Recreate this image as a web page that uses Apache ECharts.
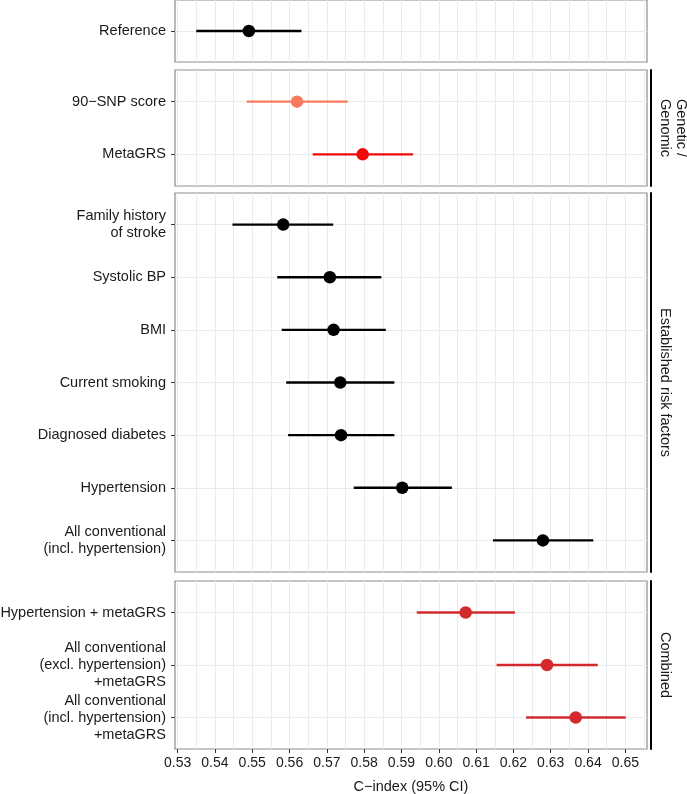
<!DOCTYPE html>
<html>
<head>
<meta charset="utf-8">
<script src="https://cdn.jsdelivr.net/npm/echarts@6/dist/echarts.min.js"></script>
<style>
html, body { margin: 0; padding: 0; background: #fff; }
#main { width: 687px; height: 794px; }
</style>
</head>
<body>
<div id="main"></div>
<script>
// C-index estimates and 95% CI
var refLabels = ['Reference'];
var refEst = [0.5491];
var refLo = [0.5350];
var refHi = [0.5632];

var genLabels = ['90\u2212SNP score', 'MetaGRS'];
var genEst = [0.5620, 0.5796];
var genLo = [0.5485, 0.5662];
var genHi = [0.5756, 0.5931];

var estLabels = ['Family history\nof stroke', 'Systolic BP', 'BMI', 'Current smoking',
    'Diagnosed diabetes', 'Hypertension', 'All conventional\n(incl. hypertension)'];
var estEst = [0.5583, 0.5708, 0.5718, 0.5736, 0.5738, 0.5902, 0.6279];
var estLo = [0.5447, 0.5567, 0.5579, 0.5591, 0.5596, 0.5772, 0.6145];
var estHi = [0.5717, 0.5846, 0.5858, 0.5881, 0.5881, 0.6035, 0.6414];

var combLabels = ['Hypertension + metaGRS', 'All conventional\n(excl. hypertension)\n+metaGRS',
    'All conventional\n(incl. hypertension)\n+metaGRS'];
var combEst = [0.6072, 0.6290, 0.6367];
var combLo = [0.5941, 0.6155, 0.6234];
var combHi = [0.6204, 0.6426, 0.6501];

var xTicks = [0.53, 0.54, 0.55, 0.56, 0.57, 0.58, 0.59, 0.60, 0.61, 0.62, 0.63, 0.64, 0.65];

var panels = [
    { labels: refLabels, est: refEst, lo: refLo, hi: refHi, colors: ['#000000'], strip: null },
    { labels: genLabels, est: genEst, lo: genLo, hi: genHi, colors: ['#F87A5F', '#F00A0A'], strip: 'Genetic /\nGenomic' },
    { labels: estLabels, est: estEst, lo: estLo, hi: estHi, colors: ['#000000'], strip: 'Established risk factors' },
    { labels: combLabels, est: combEst, lo: combLo, hi: combHi, colors: ['#D3282C'], strip: 'Combined' }
];

// panel boxes (px)
var boxes = [
    { top: 0, height: 62 },
    { top: 70, height: 116 },
    { top: 193, height: 379 },
    { top: 581, height: 168 }
];

var X_MIN = 0.5293, X_MAX = 0.6558;
var FONT = '"Liberation Sans", Arial, sans-serif';

// major + minor grid positions
var xGrid = [];
xTicks.forEach(function (t) { xGrid.push(t, +(t + 0.005).toFixed(3)); });

var grids = [], xAxes = [], yAxes = [], series = [];

panels.forEach(function (p, i) {
    var n = p.labels.length;
    var idx = p.labels.map(function (_, k) { return k; });
    var colorOf = function (k) { return p.colors[k % p.colors.length]; };

    grids.push({
        left: 175, right: 40, top: boxes[i].top, height: boxes[i].height,
        containLabel: false, outerBoundsMode: 'none',
        show: true, borderColor: '#8c8c8c', borderWidth: 1.2, backgroundColor: '#fff'
    });

    xAxes.push({
        type: 'value', gridIndex: i, min: X_MIN, max: X_MAX,
        axisLine: { show: false, onZero: false },
        axisTick: { show: false, customValues: xGrid },
        axisLabel: { show: false },
        splitLine: { show: true, lineStyle: { color: '#ebebeb', width: 1 } }
    });

    yAxes.push({
        type: 'value', gridIndex: i, inverse: true, min: -0.6, max: n - 0.4,
        axisLine: { show: false, onZero: false },
        axisTick: { show: true, length: 4, customValues: idx, lineStyle: { color: '#333', width: 1 } },
        axisLabel: {
            customValues: idx, margin: 9,
            formatter: function (v) { return p.labels[Math.round(v)]; },
            fontFamily: FONT, fontSize: 14.5, lineHeight: 17, color: '#1a1a1a'
        },
        splitLine: { show: true, lineStyle: { color: '#ebebeb', width: 1 } }
    });

    if (p.strip) {
        yAxes.push({
            type: 'value', gridIndex: i, position: 'right', offset: 4,
            inverse: true, min: -0.6, max: n - 0.4,
            axisLine: { show: true, onZero: false, lineStyle: { color: '#000', width: 2 } },
            axisTick: { show: false }, axisLabel: { show: false }, splitLine: { show: false },
            name: p.strip, nameLocation: 'middle', nameRotate: -90, nameGap: 6,
            nameTextStyle: { fontFamily: FONT, fontSize: 14.5, lineHeight: 16, color: '#1a1a1a' }
        });
    }
    var yIndex = yAxes.length - (p.strip ? 2 : 1);

    series.push({
        type: 'custom', xAxisIndex: i, yAxisIndex: yIndex,
        data: p.est.map(function (_, k) { return [p.lo[k], p.hi[k], k]; }),
        encode: { x: [0, 1], y: 2 },
        renderItem: function (params, api) {
            var a = api.coord([api.value(0), api.value(2)]);
            var b = api.coord([api.value(1), api.value(2)]);
            return {
                type: 'line',
                shape: { x1: a[0], y1: a[1], x2: b[0], y2: b[1] },
                style: { stroke: colorOf(params.dataIndex), lineWidth: 2.4 }
            };
        },
        z: 3
    });

    series.push({
        type: 'scatter', xAxisIndex: i, yAxisIndex: yIndex,
        symbolSize: 12.5,
        data: p.est.map(function (v, k) {
            return { value: [v, k], itemStyle: { color: colorOf(k), opacity: 1 } };
        }),
        z: 4
    });
});

// labelled x axis under the last panel
xAxes.push({
    type: 'value', gridIndex: 3, position: 'bottom', min: X_MIN, max: X_MAX,
    axisLine: { show: false, onZero: false },
    axisTick: { show: true, length: 4, customValues: xTicks, lineStyle: { color: '#333', width: 1 } },
    axisLabel: {
        customValues: xTicks, margin: 7,
        formatter: function (v) { return v.toFixed(2); },
        fontFamily: FONT, fontSize: 14, color: '#1a1a1a'
    },
    splitLine: { show: false },
    name: 'C\u2212index (95% CI)', nameLocation: 'middle', nameGap: 30,
    nameTextStyle: { fontFamily: FONT, fontSize: 14.5, color: '#1a1a1a' }
});

var chart = echarts.init(document.getElementById('main'), null, { renderer: 'canvas' });
chart.setOption({
    animation: false,
    backgroundColor: '#fff',
    grid: grids,
    xAxis: xAxes,
    yAxis: yAxes,
    series: series
});
</script>
</body>
</html>
